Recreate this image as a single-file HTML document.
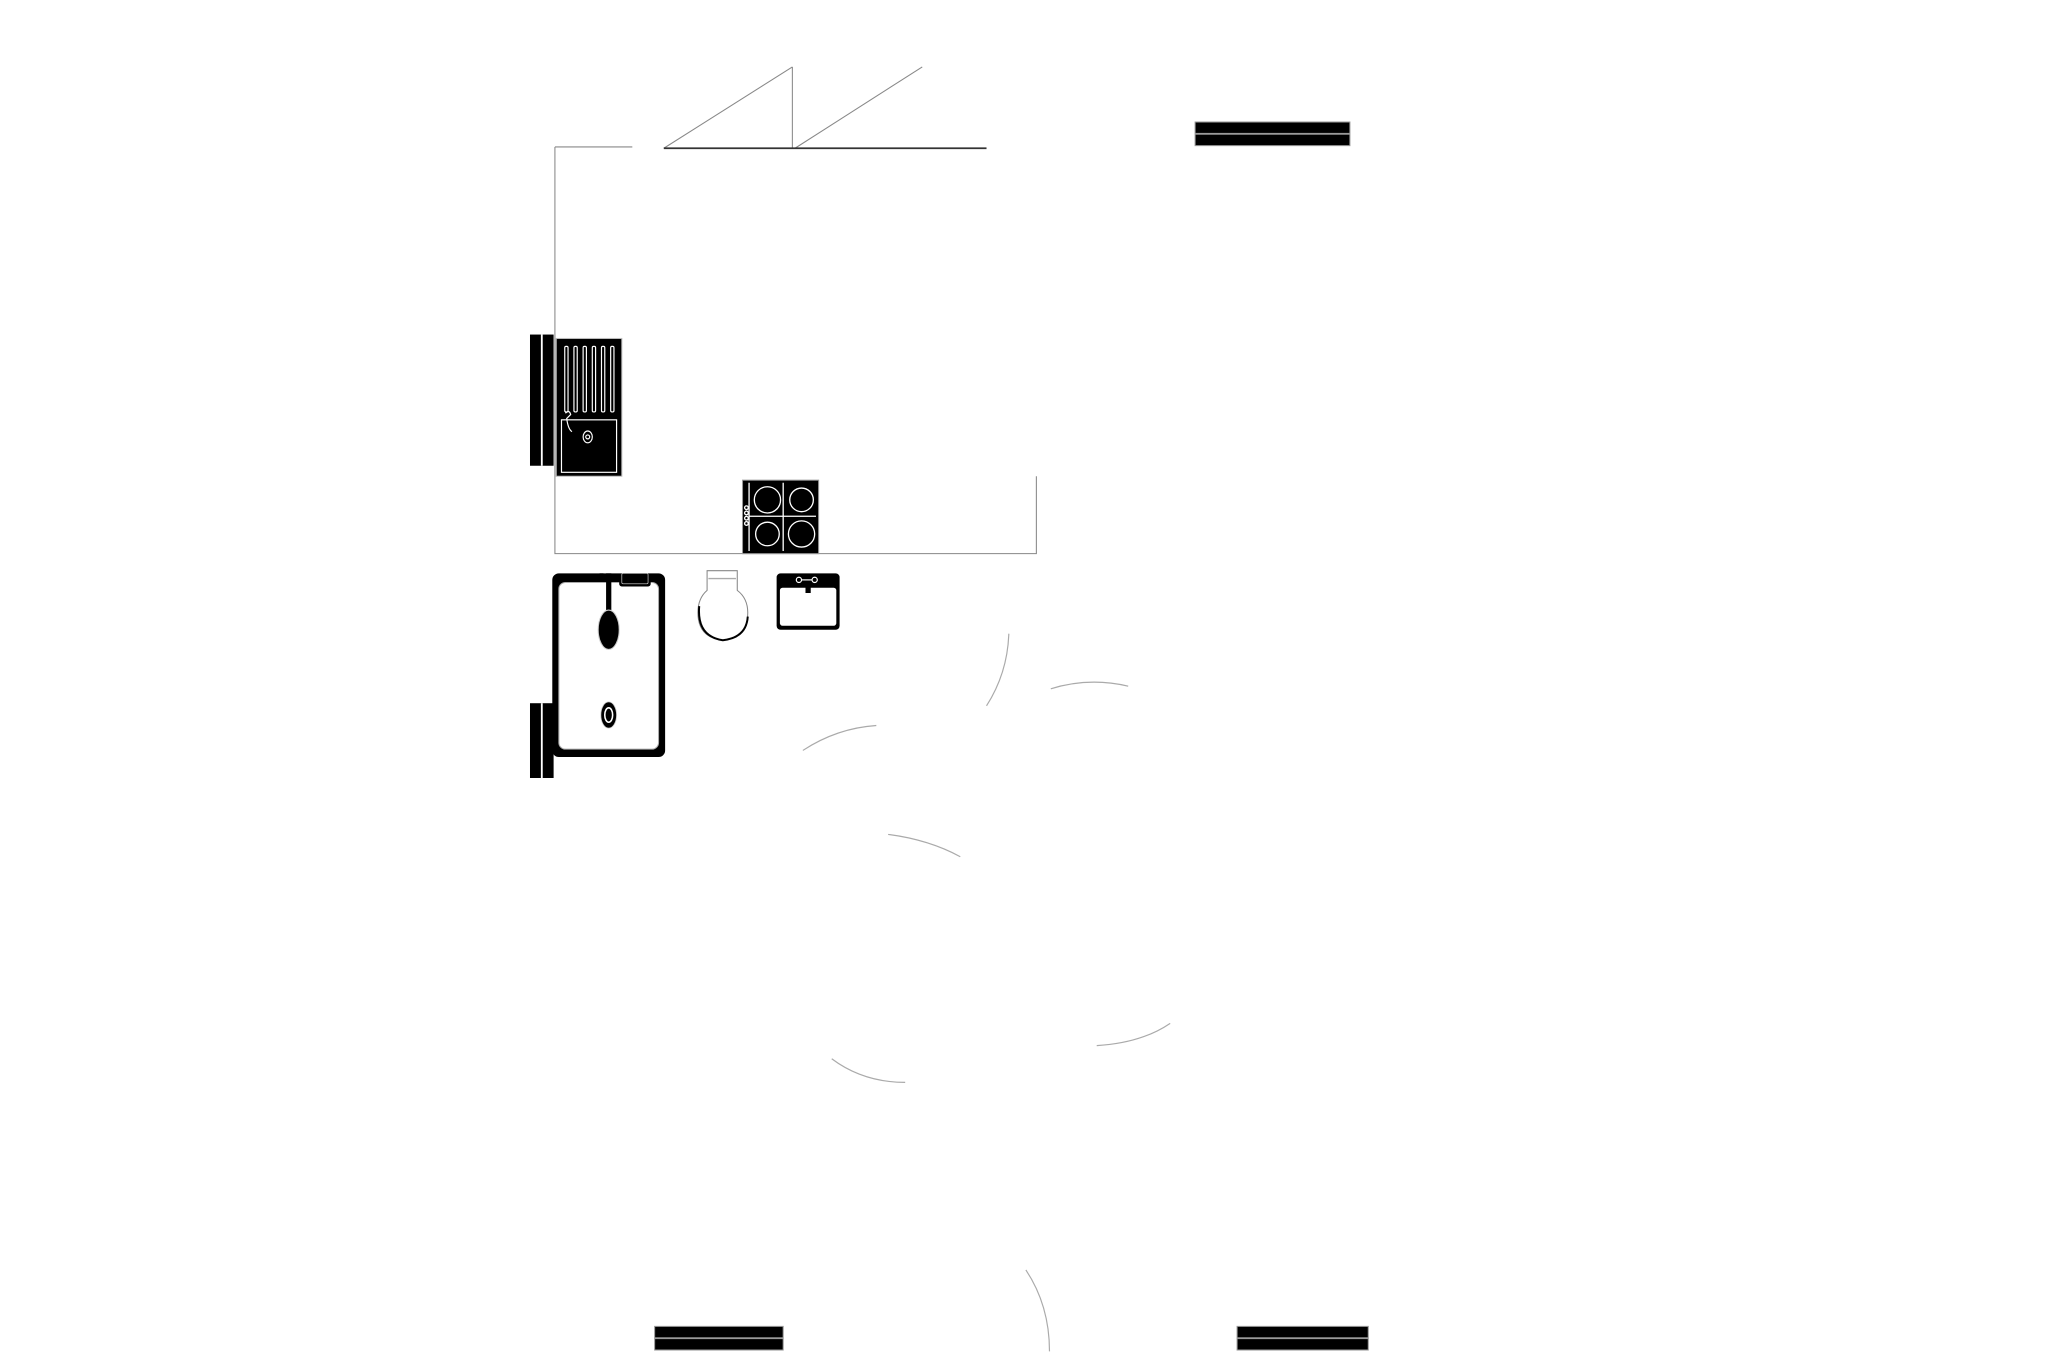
<!DOCTYPE html>
<html><head><meta charset="utf-8"><style>html,body{margin:0;padding:0;background:#fff}svg{display:block}</style></head>
<body>
<svg width="2057" height="1371" viewBox="0 0 1568 1045" preserveAspectRatio="none" xmlns="http://www.w3.org/2000/svg">
<rect width="1568" height="1045" fill="#fff"/>
<g fill="none" stroke="#888" stroke-width="0.8">
<path d="M423 112 H482"/>
<path d="M423 112 V422 H790 V363"/>
<path d="M604 51 V113"/>
<path d="M506 113 L604 51"/>
<path d="M606 113 L703 51"/>
</g>
<path d="M506 113 H752" stroke="#333" stroke-width="1.3"/>
<g>
<rect x="911" y="93" width="118" height="18" fill="#000"/><rect x="911" y="101.3" width="118" height="1.4" fill="#999"/>
<rect x="911" y="93" width="118" height="18" fill="none" stroke="#999" stroke-width="0.8"/>
<rect x="499" y="1011" width="98" height="18" fill="#000"/><rect x="499" y="1019.3" width="98" height="1.4" fill="#999"/>
<rect x="499" y="1011" width="98" height="18" fill="none" stroke="#999" stroke-width="0.8"/>
<rect x="943" y="1011" width="100" height="18" fill="#000"/><rect x="943" y="1019.3" width="100" height="1.4" fill="#999"/>
<rect x="943" y="1011" width="100" height="18" fill="none" stroke="#999" stroke-width="0.8"/>
<rect x="404" y="255" width="18" height="100" fill="#000"/><rect x="412.3" y="255" width="1.4" height="100" fill="#fff"/>
<rect x="404" y="536" width="18" height="57" fill="#000"/><rect x="412.3" y="536" width="1.4" height="57" fill="#fff"/>
</g>
<rect x="424" y="258" width="50" height="105" fill="#000" stroke="#bbb" stroke-width="0.8"/>
<g fill="none" stroke="#fff" stroke-width="0.9">
<rect x="430.5" y="264" width="2.5" height="50" rx="1"/><rect x="437.5" y="264" width="2.5" height="50" rx="1"/>
<rect x="444.5" y="264" width="2.5" height="50" rx="1"/><rect x="451.5" y="264" width="2.5" height="50" rx="1"/>
<rect x="458.5" y="264" width="2.5" height="50" rx="1"/><rect x="465.5" y="264" width="2.5" height="50" rx="1"/>
<rect x="428" y="320" width="42" height="40"/>
<ellipse cx="448" cy="333" rx="3.5" ry="4.5"/><circle cx="448" cy="333" r="1.5"/>
<path d="M431 315 q3 -3 4 1 l-3 3 q1 8 4 10"/>
</g>
<rect x="566" y="366" width="58" height="56" fill="#000" stroke="#999" stroke-width="0.8"/>
<g fill="none" stroke="#fff" stroke-width="1">
<path d="M571 393.5 H622 M597 368 V420 M571 368 V420"/>
<circle cx="585" cy="381" r="10"/><circle cx="611" cy="381" r="9"/>
<circle cx="585" cy="407" r="9"/><circle cx="611" cy="407" r="10"/>
<circle cx="569" cy="387" r="1.4"/><circle cx="569" cy="391" r="1.4"/><circle cx="569" cy="395" r="1.4"/><circle cx="569" cy="399" r="1.4"/>
</g>
<rect x="421" y="437" width="86" height="140" rx="5" fill="#000"/>
<rect x="426" y="444" width="76" height="127" rx="5" fill="#fff" stroke="#aaa" stroke-width="0.8"/>
<rect x="472" y="437" width="24" height="10" rx="2" fill="#000"/>
<rect x="474" y="437" width="20" height="8" rx="1" fill="none" stroke="#ddd" stroke-width="0.5"/>
<rect x="462" y="437" width="4" height="30" fill="#000"/>
<rect x="457" y="437" width="3" height="5" fill="#000"/>
<ellipse cx="464" cy="480" rx="8" ry="15" fill="#000" stroke="#ccc" stroke-width="0.8"/>
<ellipse cx="464" cy="545" rx="6" ry="10" fill="#000" stroke="#ccc" stroke-width="0.6"/>
<ellipse cx="464" cy="545" rx="3" ry="5.5" fill="none" stroke="#fff" stroke-width="1.2"/>
<path d="M539 435 H562 V450 Q570 456 570 467 Q570 486 551 488 Q532 486 532 467 Q532 456 539 450 Z" fill="#fff" stroke="#888" stroke-width="0.8"/>
<path d="M533 462 Q531 485 551 488 Q569 486 570 470" fill="none" stroke="#000" stroke-width="1.5"/>
<path d="M540 441 H561" stroke="#aaa" stroke-width="1"/>
<rect x="592" y="437" width="48" height="43" rx="3" fill="#000"/>
<rect x="594.5" y="448" width="43" height="29" rx="2" fill="#fff"/>
<g fill="none" stroke="#fff" stroke-width="0.9"><circle cx="609" cy="442" r="2"/><circle cx="621" cy="442" r="2"/><path d="M611 442 H619"/></g>
<rect x="614" y="443" width="4" height="9" fill="#000"/>
<g fill="none" stroke="#aaa" stroke-width="0.9">
<path d="M769 483 Q768 513 752 538"/>
<path d="M801 525 Q830 516 860 523"/>
<path d="M612 572 Q638 555 668 553"/>
<path d="M677 636 Q708 640 732 653"/>
<path d="M836 797 Q870 795 892 780"/>
<path d="M634 807 Q658 825 690 825"/>
<path d="M782 968 Q800 995 800 1030"/>
</g>
</svg>
</body></html>
